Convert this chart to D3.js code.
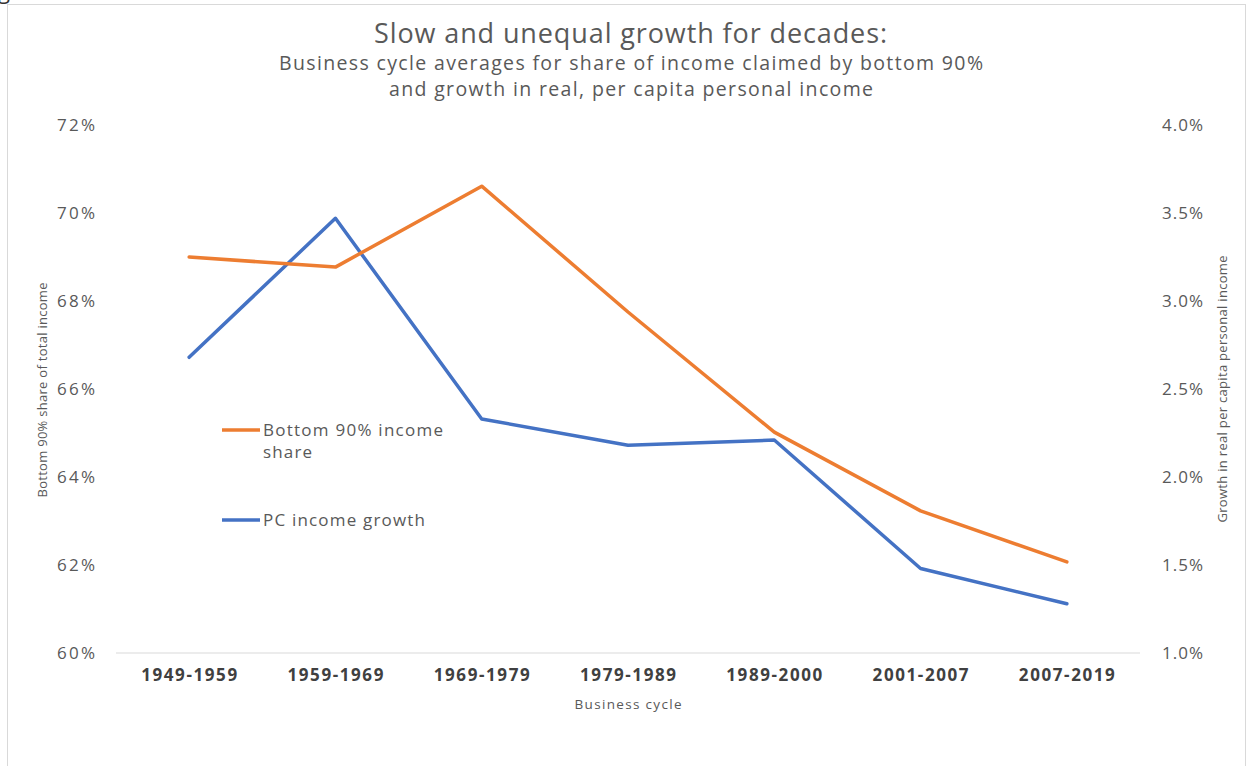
<!DOCTYPE html>
<html>
<head>
<meta charset="utf-8">
<script src="https://cdn.jsdelivr.net/npm/d3@7"></script>
<style>
  body { margin: 0; background: #fff; }
  text { font-family: "Open Sans", "Noto Sans", sans-serif; fill: #595959; }
</style>
</head>
<body>
<div id="chart"></div>
<script>
// business cycles and the two series
var cycles = ["1949-1959", "1959-1969", "1969-1979", "1979-1989", "1989-2000", "2001-2007", "2007-2019"];
var shareBottom90 = [69.0, 68.77, 70.61, 67.75, 65.02, 63.23, 62.07];   // left axis, %
var pcGrowth = [2.68, 3.47, 2.33, 2.18, 2.21, 1.48, 1.28];               // right axis, %
var leftTicks = [60, 62, 64, 66, 68, 70, 72];
var rightTicks = [1.0, 1.5, 2.0, 2.5, 3.0, 3.5, 4.0];

var width = 1254, height = 766;
var margin = {top: 125, right: 114, bottom: 113, left: 116};

var svg = d3.select("#chart").append("svg")
    .attr("width", width)
    .attr("height", height);

// stretch text to the width it has in the original (Calibri is spaced wider)
function fit(sel, len) {
  sel.attr("textLength", len).attr("lengthAdjust", "spacing");
}

// frame
svg.append("rect")
    .attr("x", 7.5).attr("y", 4.5)
    .attr("width", 1238).attr("height", 780)
    .style("fill", "none")
    .style("stroke", "#d9d9d9");

// cut-off glyph above the frame
svg.append("text")
    .attr("x", -2).attr("y", -1)
    .style("font-size", "22px")
    .style("fill", "#333")
    .text("g");

var x = d3.scaleBand()
    .domain(cycles)
    .range([margin.left, width - margin.right]);

var yL = d3.scaleLinear()
    .domain([60, 72])
    .range([height - margin.bottom, margin.top]);

var yR = d3.scaleLinear()
    .domain([1.0, 4.0])
    .range([height - margin.bottom, margin.top]);

// titles
svg.append("text")
    .attr("x", 374).attr("y", 43)
    .style("font-size", "27px")
    .text("Slow and unequal growth for decades:")
    .call(fit, 513);

svg.append("text")
    .attr("x", 279).attr("y", 70)
    .style("font-size", "19.5px")
    .text("Business cycle averages for share of income claimed by bottom 90%")
    .call(fit, 704);

svg.append("text")
    .attr("x", 389).attr("y", 96)
    .style("font-size", "19.5px")
    .text("and growth in real, per capita personal income")
    .call(fit, 484);

// baseline
svg.append("line")
    .attr("x1", margin.left).attr("x2", width - margin.right)
    .attr("y1", yL(60)).attr("y2", yL(60))
    .style("stroke", "#d9d9d9")
    .style("stroke-width", 1.2);

// left axis
var leftAxis = d3.axisLeft(yL)
    .tickValues(leftTicks)
    .tickSize(0)
    .tickPadding(0)
    .tickFormat(function(d) { return d + "%"; });

var gL = svg.append("g")
    .attr("transform", "translate(95,0)")
    .call(leftAxis);
gL.select(".domain").remove();
gL.selectAll("text")
    .style("font-size", "17px")
    .style("font-family", null)
    .attr("dy", "0.35em")
    .call(fit, 38);

// right axis
var rightAxis = d3.axisRight(yR)
    .tickValues(rightTicks)
    .tickSize(0)
    .tickPadding(0)
    .tickFormat(function(d) { return d3.format(".1f")(d) + "%"; });

var gR = svg.append("g")
    .attr("transform", "translate(1162,0)")
    .call(rightAxis);
gR.select(".domain").remove();
gR.selectAll("text")
    .style("font-size", "17px")
    .style("font-family", null)
    .attr("dy", "0.35em")
    .call(fit, 41);

// x axis labels
var xAxis = d3.axisBottom(x).tickSize(0).tickPadding(0);
var gX = svg.append("g")
    .attr("transform", "translate(0," + (yL(60) + 16) + ")")
    .call(xAxis);
gX.select(".domain").remove();
gX.selectAll("text")
    .style("font-size", "17px")
    .style("font-weight", "bold")
    .style("font-family", null)
    .style("fill", "#404040")
    .call(fit, 96);

// axis titles
svg.append("text")
    .attr("x", 628).attr("y", 709)
    .style("text-anchor", "middle")
    .style("font-size", "13.5px")
    .text("Business cycle")
    .call(fit, 107);

svg.append("text")
    .attr("transform", "translate(47,390) rotate(-90)")
    .style("text-anchor", "middle")
    .style("font-size", "13px")
    .text("Bottom 90% share of total income")
    .call(fit, 215);

svg.append("text")
    .attr("transform", "translate(1227,389) rotate(-90)")
    .style("text-anchor", "middle")
    .style("font-size", "13px")
    .text("Growth in real per capita personal income")
    .call(fit, 267);

// lines
var cx = function(d, i) { return x(cycles[i]) + x.bandwidth() / 2; };

var lineL = d3.line()
    .x(cx)
    .y(function(d) { return yL(d); });

var lineR = d3.line()
    .x(cx)
    .y(function(d) { return yR(d); });

svg.append("path")
    .datum(pcGrowth)
    .attr("d", lineR)
    .style("fill", "none")
    .style("stroke", "#4472C4")
    .style("stroke-width", 3.5)
    .style("stroke-linejoin", "round")
    .style("stroke-linecap", "round");

svg.append("path")
    .datum(shareBottom90)
    .attr("d", lineL)
    .style("fill", "none")
    .style("stroke", "#ED7D31")
    .style("stroke-width", 3.5)
    .style("stroke-linejoin", "round")
    .style("stroke-linecap", "round");

// legend
var legend = [
  {color: "#ED7D31", lines: ["Bottom 90% income", "share"], widths: [180, 49], y: 430},
  {color: "#4472C4", lines: ["PC income growth"], widths: [162], y: 520}
];

var lg = svg.selectAll(".legend").data(legend).enter()
    .append("g").attr("class", "legend");

lg.append("line")
    .attr("x1", 222).attr("x2", 260)
    .attr("y1", function(d) { return d.y; })
    .attr("y2", function(d) { return d.y; })
    .style("stroke", function(d) { return d.color; })
    .style("stroke-width", 3.5);

lg.each(function(d) {
  var g = d3.select(this);
  d.lines.forEach(function(s, i) {
    g.append("text")
      .attr("x", 263)
      .attr("y", d.y + 6 + i * 22)
      .style("font-size", "17px")
      .text(s)
      .call(fit, d.widths[i]);
  });
});
</script>
</body>
</html>
